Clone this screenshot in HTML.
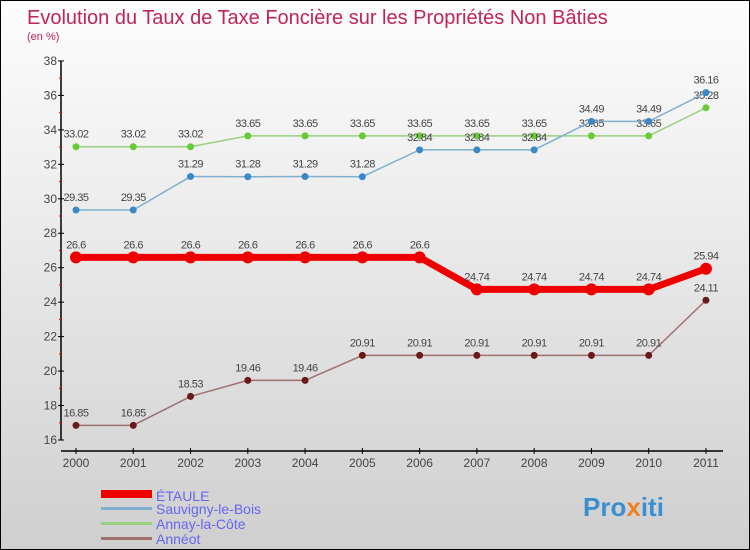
<!DOCTYPE html>
<html><head><meta charset="utf-8"><style>
body{margin:0}
#c{width:748px;height:548px;border:1px solid #000;background:linear-gradient(#fcfcfc,#f0f0f0 30%,#cfcfcf);position:relative;overflow:hidden;font-family:"Liberation Sans",sans-serif}
</style></head><body>
<div id="c">
<svg id="s" width="748" height="548" xmlns="http://www.w3.org/2000/svg">
<text x="26" y="23" font-size="20" fill="#c0245c">Evolution du Taux de Taxe Foncière sur les Propriétés Non Bâties</text>
<text x="26" y="39" font-size="11" fill="#c0245c">(en %)</text>
<g id="axes"></g><g id="series"></g>
<g>
<rect x="100" y="489" width="51" height="8" fill="#e00"/>
<text x="155" y="500" font-size="14" fill="#6666ee">ÉTAULE</text>
<rect x="100" y="506" width="51" height="3" fill="#7fb0d0"/>
<text x="155" y="513" font-size="14" fill="#6666ee">Sauvigny-le-Bois</text>
<rect x="100" y="521" width="51" height="3" fill="#99d080"/>
<text x="155" y="528" font-size="14" fill="#6666ee">Annay-la-Côte</text>
<rect x="100" y="536" width="51" height="3" fill="#a07070"/>
<text x="155" y="543" font-size="14" fill="#6666ee">Annéot</text>
</g>
<text x="582" y="515" font-size="26" font-weight="bold" fill="#3a8fd0">Pro<tspan fill="#f08020">x</tspan><tspan fill="#3a8fd0">iti</tspan></text>
</svg>
</div>
<script>
const years=[2000,2001,2002,2003,2004,2005,2006,2007,2008,2009,2010,2011];
const yTicks=[16,18,20,22,24,26,28,30,32,34,36,38];
const etaule=[26.6,26.6,26.6,26.6,26.6,26.6,26.6,24.74,24.74,24.74,24.74,25.94];
const sauvigny=[29.35,29.35,31.29,31.28,31.29,31.28,32.84,32.84,32.84,34.49,34.49,36.16];
const annay=[33.02,33.02,33.02,33.65,33.65,33.65,33.65,33.65,33.65,33.65,33.65,35.28];
const anneot=[16.85,16.85,18.53,19.46,19.46,20.91,20.91,20.91,20.91,20.91,20.91,24.11];
const NS='http://www.w3.org/2000/svg';
const X=i=>75+i*57.27, Y=v=>439-(v-16)*17.23;
function mk(t,a,p){const e=document.createElementNS(NS,t);for(const k in a)e.setAttribute(k,a[k]);p.appendChild(e);return e;}
const ax=document.getElementById('axes'),se=document.getElementById('series');
let yl=mk('line',{x1:60,y1:Y(38),x2:60,y2:Y(16),stroke:'#000','stroke-width':1.5},ax);


let xl=mk('line',{x1:60,y1:450,x2:722,y2:450,stroke:'#000','stroke-width':1.5},ax);


yTicks.forEach(v=>{
 mk('line',{x1:57,y1:Y(v),x2:63,y2:Y(v),stroke:'#000'},ax);
 if(v<38)mk('line',{x1:58,y1:Y(v+1),x2:61,y2:Y(v+1),stroke:'#e00'},ax);
 const t=mk('text',{x:56,y:Y(v)+4,'font-size':12,fill:'#444','text-anchor':'end'},ax);t.textContent=v;
 
 
});
years.forEach((y,i)=>{
 mk('line',{x1:X(i),y1:447,x2:X(i),y2:453,stroke:'#000'},ax);
 const t=mk('text',{x:X(i),y:466,'font-size':12,fill:'#444','text-anchor':'middle'},ax);t.textContent=y;
 
 
});
function series(d,col,dot,w,r,name){
 const g=mk('g',{},se);
 
 
 mk('polyline',{points:d.map((v,i)=>X(i)+','+Y(v)).join(' '),fill:'none',stroke:col,'stroke-width':w},g);
 d.forEach((v,i)=>{
  const c=mk('circle',{cx:X(i),cy:Y(v),r:r,fill:dot},g);
  
  
  const t=mk('text',{x:X(i),y:Y(v)-9,'font-size':11,fill:'#444','text-anchor':'middle','letter-spacing':'-0.5'},g);t.textContent=String(v);
  
  
 });
}
series(anneot,'#a07070','#6a1a1a',1.5,3.5,'anneot');
series(annay,'#99d080','#66cc33',1.5,3.5,'annay');
series(sauvigny,'#7fb0d0','#3a88c8',1.5,3.5,'sauvigny');
series(etaule,'#e00','#e00',7,6,'etaule');
</script>
</body></html>
